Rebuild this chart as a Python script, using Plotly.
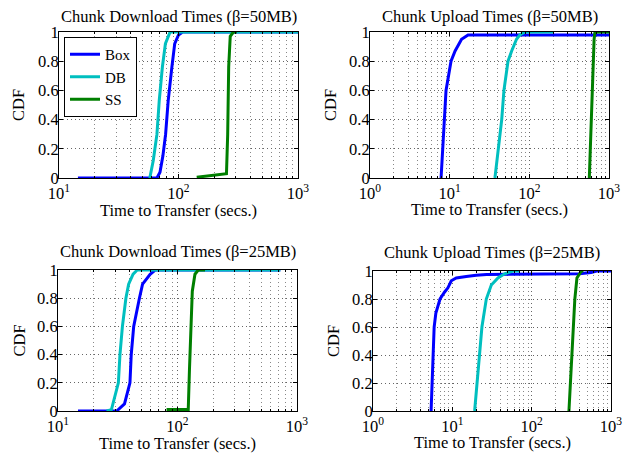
import plotly.graph_objects as go

# ---------------- data ----------------
series_names = ["Box", "DB", "SS"]
series_colors = ["#0000ff", "#00bfbf", "#007f00"]

# Chunk Download Times (beta=50MB)
dl50_box_x = [14.4, 66, 70, 74, 78, 82, 88, 93, 100, 108, 1000]
dl50_box_y = [0, 0, 0.04, 0.15, 0.3, 0.53, 0.76, 0.92, 0.98, 1.0, 1.0]
dl50_db_x = [57.5, 61.5, 66, 69, 73.3, 77.7, 85, 1000]
dl50_db_y = [0, 0.12, 0.3, 0.53, 0.76, 0.92, 1.0, 1.0]
dl50_ss_x = [142, 172, 252, 258, 263, 271, 288, 308]
dl50_ss_y = [0.005, 0.015, 0.03, 0.3, 0.76, 0.97, 1.0, 1.0]

# Chunk Upload Times (beta=50MB)
ul50_box_x = [7.8, 8.2, 8.5, 9.0, 10.4, 11.7, 14.1, 17, 1000]
ul50_box_y = [0, 0.2, 0.4, 0.6, 0.8, 0.87, 0.95, 0.98, 0.98]
ul50_db_x = [37, 41, 45, 48, 54, 60, 69, 76, 88, 200]
ul50_db_y = [0, 0.2, 0.4, 0.6, 0.8, 0.87, 0.95, 0.98, 1.0, 1.0]
ul50_ss_x = [566, 590, 620, 650, 666, 1000]
ul50_ss_y = [0, 0.3, 0.7, 0.95, 1.0, 1.0]

# Chunk Download Times (beta=25MB)
dl25_box_x = [14.7, 31, 36, 40, 41, 43, 48, 51, 59, 65, 725]
dl25_box_y = [0, 0, 0.05, 0.2, 0.4, 0.6, 0.8, 0.9, 0.97, 1.0, 1.0]
dl25_db_x = [25.5, 28, 32, 33, 34.6, 37, 39, 42.5, 46, 725]
dl25_db_y = [0, 0.01, 0.2, 0.4, 0.6, 0.8, 0.9, 0.97, 1.0, 1.0]
dl25_ss_x = [81, 123, 126, 129, 133, 140, 149, 170]
dl25_ss_y = [0.01, 0.01, 0.3, 0.6, 0.85, 0.97, 1.0, 1.0]

# Chunk Upload Times (beta=25MB)
ul25_box_x = [5.4, 5.7, 5.9, 6.2, 6.6, 7.0, 8.0, 8.8, 9.7, 11.2, 15, 20, 27, 400, 560, 660, 1000]
ul25_box_y = [0, 0.4, 0.6, 0.7, 0.76, 0.8, 0.85, 0.88, 0.93, 0.95, 0.96, 0.97, 0.975, 0.98, 0.99, 1.0, 1.0]
ul25_db_x = [19.1, 20.4, 21.7, 23.6, 26.8, 31, 37.6, 45.6, 58, 70]
ul25_db_y = [0, 0.2, 0.4, 0.6, 0.8, 0.9, 0.95, 0.98, 1.0, 1.0]
ul25_ss_x = [295, 307, 325, 350, 372, 424, 450]
ul25_ss_y = [0, 0.2, 0.5, 0.8, 0.95, 1.0, 1.0]

panel_titles = ["Chunk Download Times (β=50MB)", "Chunk Upload Times (β=50MB)",
                "Chunk Download Times (β=25MB)", "Chunk Upload Times (β=25MB)"]
x_title = "Time to Transfer (secs.)"
y_title = "CDF"
y_tickvals = [0, 0.2, 0.4, 0.6, 0.8, 1.0]
y_ticktext = ["0", "0.2", "0.4", "0.6", "0.8", "1"]

panels = [
    [(dl50_box_x, dl50_box_y), (dl50_db_x, dl50_db_y), (dl50_ss_x, dl50_ss_y)],
    [(ul50_box_x, ul50_box_y), (ul50_db_x, ul50_db_y), (ul50_ss_x, ul50_ss_y)],
    [(dl25_box_x, dl25_box_y), (dl25_db_x, dl25_db_y), (dl25_ss_x, dl25_ss_y)],
    [(ul25_box_x, ul25_box_y), (ul25_db_x, ul25_db_y), (ul25_ss_x, ul25_ss_y)],
]
x_decades = [(1, 3), (0, 3), (1, 3), (0, 3)]

# ---------------- layout (screen-pixel boxes) ----------------
OFF = 8            # page body margin in the browser
W, H = 631, 449    # figure size so that it fits the 639x457 window


def px(x):
    return (x - OFF) / W


def py(y):
    return 1 - (y - OFF) / H


boxes = [(59, 298, 32, 178), (370, 609, 32, 178), (58, 297, 270, 411), (373, 611, 271, 411)]
title_y = [16, 16, 251, 253]
xtitle_y = [211, 209, 443, 442]
ytitle_x = [19, 331, 19, 333]

FONT = "Liberation Serif"
FS = 16.5
fig = go.Figure()
annotations = []

for i, (panel, (d0, d1), box) in enumerate(zip(panels, x_decades, boxes)):
    suffix = "" if i == 0 else str(i + 1)
    xa, ya = "x" + suffix, "y" + suffix
    for j, (xs, ys) in enumerate(panel):
        fig.add_trace(go.Scatter(
            x=xs, y=ys, mode="lines", name=series_names[j],
            line=dict(color=series_colors[j], width=3),
            xaxis=xa, yaxis=ya, showlegend=(i == 0)))
    x0, x1, y0, y1 = box
    major = [10 ** k for k in range(d0, d1 + 1)]
    minor = [m * 10 ** k for k in range(d0, d1) for m in range(2, 10)]
    axis_common = dict(showline=True, linecolor="black", linewidth=1, mirror="allticks",
                       ticks="inside", ticklen=4, tickcolor="black", automargin=False,
                       showgrid=True, gridcolor="#666", griddash="1px,3px", gridwidth=1,
                       zeroline=False, tickfont=dict(family=FONT, size=FS, color="black"))
    fig.update_layout(**{
        ("xaxis" + suffix): dict(
            type="log", range=[d0, d1], domain=[px(x0), px(x1)], anchor=ya,
            tickmode="array", tickvals=major,
            ticktext=["10<sup>%d</sup>" % k for k in range(d0, d1 + 1)],
            minor=dict(tickmode="array", tickvals=minor, ticks="inside", ticklen=2,
                       tickcolor="black", showgrid=True, gridcolor="#888",
                       griddash="1px,3px", gridwidth=1),
            **axis_common),
        ("yaxis" + suffix): dict(
            range=[0, 1], domain=[py(y1), py(y0)], anchor=xa,
            tickmode="array", tickvals=y_tickvals, ticktext=y_ticktext,
            ticklabelstandoff=-4,
            **axis_common),
    })
    cx = (x0 + x1) / 2
    annotations.append(dict(text=panel_titles[i], x=px(cx), y=py(title_y[i]),
                            xref="paper", yref="paper", showarrow=False,
                            xanchor="center", yanchor="middle",
                            font=dict(family=FONT, size=FS, color="black")))
    annotations.append(dict(text=x_title, x=px(cx), y=py(xtitle_y[i]),
                            xref="paper", yref="paper", showarrow=False,
                            xanchor="center", yanchor="middle",
                            font=dict(family=FONT, size=FS, color="black")))
    annotations.append(dict(text=y_title, x=px(ytitle_x[i]), y=py((y0 + y1) / 2),
                            xref="paper", yref="paper", showarrow=False, textangle=-90,
                            xanchor="center", yanchor="middle",
                            font=dict(family=FONT, size=FS, color="black")))

fig.update_layout(
    width=W, height=H, margin=dict(l=0, r=0, t=0, b=0, autoexpand=False),
    paper_bgcolor="white", plot_bgcolor="white",
    annotations=annotations,
    legend=dict(x=px(64), y=py(37), xanchor="left", yanchor="top",
                bgcolor="white", bordercolor="black", borderwidth=1,
                font=dict(family=FONT, size=15, color="black"),
                tracegroupgap=0, itemwidth=30),
    font=dict(family=FONT, size=FS, color="black"),
)

fig.write_html("out.html")
